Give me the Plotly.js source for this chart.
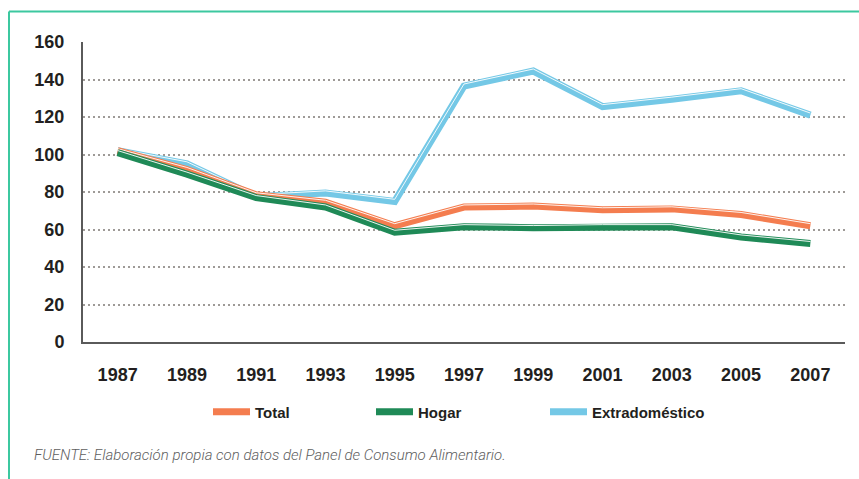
<!DOCTYPE html>
<html>
<head>
<meta charset="utf-8">
<script src="https://cdn.plot.ly/plotly-3.0.1.min.js"></script>
<style>html,body{margin:0;padding:0;background:#fff;}#chart{width:859px;height:479px;}</style>
</head>
<body>
<div id="chart"></div>
<script>
const years = ['1987','1989','1991','1993','1995','1997','1999','2001','2003','2005','2007'];
const total = [102, 92, 78.5, 74.5, 62, 72, 72.5, 70.5, 71, 68, 62];
const hogar = [101, 89.5, 77, 72, 58.5, 61.5, 61, 61.5, 61.5, 56, 52.5];
const extradomestico = [102, 95, 77.5, 79.5, 75, 136.5, 144.5, 125.5, 129.5, 134, 121];
const seriesNames = ['Total', 'Hogar', 'Extradoméstico'];
const footnote = 'FUENTE: Elaboración propia con datos del Panel de Consumo Alimentario.';

const cOrange = '#f47d4f', cGreen = '#1f8a57', cBlue = '#74c8e6';
const LW = 7;
const shift = 1.1; // highlight offset in axis units

function mainTrace(name, y, color, yaxis, legend) {
  return {x: years, y: y, name: name, type: 'scatter', mode: 'lines', yaxis: yaxis,
    line: {color: color, width: LW}, legend: legend, hoverinfo: 'skip'};
}
function hiTrace(y, yaxis) {
  return {x: years, y: y, type: 'scatter', mode: 'lines', yaxis: yaxis, showlegend: false,
    line: {color: 'rgba(255,255,255,0.9)', width: 1}, hoverinfo: 'skip'};
}

const data = [
  mainTrace(seriesNames[2], extradomestico, cBlue, 'y', 'legend3'),
  hiTrace(extradomestico, 'y2'),
  mainTrace(seriesNames[0], total, cOrange, 'y3', 'legend'),
  hiTrace(total, 'y4'),
  mainTrace(seriesNames[1], hogar, cGreen, 'y5', 'legend2'),
  hiTrace(hogar, 'y6')
];

const W = 762, H = 300, L = 83, T = 42;
const px = v => (v - L) / W;
const py = v => (T + H - v) / H;

const overlay = r => ({overlaying: 'y', range: r, visible: false, fixedrange: true});
const legendFont = {family: 'Liberation Sans, Arial, sans-serif', size: 15, color: '#231f20', weight: 'bold'};
function leg(xpos) {
  return {orientation: 'h', x: px(xpos), xanchor: 'left', y: py(412), yanchor: 'middle',
    font: legendFont, bgcolor: 'rgba(0,0,0,0)', itemwidth: 37, traceorder: 'normal'};
}

const layout = {
  width: 859, height: 479,
  margin: {l: L, r: 14, t: T, b: 137},
  paper_bgcolor: '#fff', plot_bgcolor: '#fff',
  font: {family: 'Liberation Sans, Arial, sans-serif', color: '#231f20'},
  showlegend: true,
  xaxis: {type: 'category', range: [-0.5, 10.5], showgrid: false, zeroline: false,
    showline: true, linecolor: '#5a5a5a', linewidth: 2, ticks: '', ticklabelstandoff: 15,
    tickfont: {size: 18, weight: 'bold', color: '#231f20'}, fixedrange: true},
  yaxis: {range: [0, 160], dtick: 20, showgrid: true, gridcolor: '#9e9a97', gridwidth: 2,
    griddash: '2px,3px', zeroline: false, showline: true, linecolor: '#5a5a5a', linewidth: 2,
    ticks: '', ticklabelstandoff: 13, tickfont: {size: 18, weight: 'bold', color: '#231f20'}, fixedrange: true},
  yaxis2: overlay([-shift, 160 - shift]),
  yaxis3: overlay([0, 160]),
  yaxis4: overlay([-shift, 160 - shift]),
  yaxis5: overlay([0, 160]),
  yaxis6: overlay([-shift, 160 - shift]),
  legend: leg(208),
  legend2: leg(371),
  legend3: leg(545),
  shapes: [
    {type: 'line', xref: 'paper', yref: 'paper', x0: px(9), x1: px(870), y0: py(11.5), y1: py(11.5),
      line: {color: '#3cc8a0', width: 2}},
    {type: 'line', xref: 'paper', yref: 'paper', x0: px(9), x1: px(9), y0: py(11.5), y1: py(490),
      line: {color: '#3cc8a0', width: 2}}
  ],
  annotations: [
    {text: footnote, xref: 'paper', yref: 'paper', x: px(32), y: py(455), xanchor: 'left', yanchor: 'middle',
      showarrow: false, font: {family: 'Roboto, sans-serif', size: 15, style: 'italic', weight: 300, color: '#5e5e5e'}}
  ]
};

Plotly.newPlot('chart', data, layout, {displayModeBar: false, staticPlot: true});
</script>
</body>
</html>
